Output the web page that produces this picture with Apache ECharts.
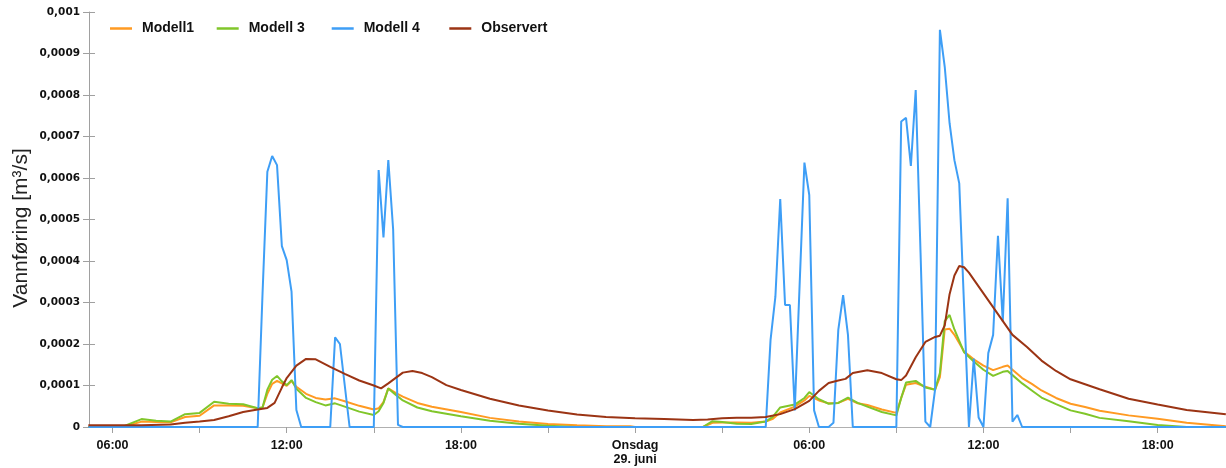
<!DOCTYPE html>
<html>
<head>
<meta charset="utf-8">
<script src="https://cdn.jsdelivr.net/npm/echarts@6/dist/echarts.min.js"></script>
<style>
html,body{margin:0;padding:0;background:#fff;}
#chart{width:1226px;height:468px;}
</style>
</head>
<body>
<div id="chart"></div>
<script>
// ---- Data (times as "DD HH:MM", June 2022) ----
const seriesNames = ['Modell1', 'Modell 3', 'Modell 4', 'Observert'];
const xTickLabels = ['06:00', '12:00', '18:00', 'Onsdag\n29. juni', '06:00', '12:00', '18:00'];
const yTitle = 'Vannføring [m³/s]';

const m1Time = ['28 05:10','28 06:00','28 06:30','28 07:00','28 07:30','28 08:00','28 08:30','28 09:00','28 09:30','28 10:00','28 10:30','28 11:00','28 11:10','28 11:20','28 11:30','28 11:40','28 11:50','28 12:00','28 12:10','28 12:20','28 12:40','28 13:00','28 13:20','28 13:40','28 14:00','28 14:30','28 15:00','28 15:10','28 15:20','28 15:30','28 15:45','28 16:00','28 16:30','28 17:00','28 18:00','28 19:00','28 20:00','28 21:00','28 22:00','28 23:00','28 23:50','29 00:00','29 02:20','29 02:40','29 03:00','29 03:30','29 04:00','29 04:30','29 04:45','29 05:00','29 05:30','29 05:50','29 06:00','29 06:20','29 06:40','29 07:00','29 07:20','29 07:40','29 08:00','29 08:30','29 09:00','29 09:10','29 09:20','29 09:40','29 10:00','29 10:20','29 10:30','29 10:40','29 10:50','29 11:00','29 11:20','29 11:40','29 12:00','29 12:20','29 12:40','29 12:50','29 13:00','29 13:20','29 13:40','29 14:00','29 14:30','29 15:00','29 15:30','29 16:00','29 17:00','29 18:00','29 19:00','29 20:21'];
const m1Val = [0,0.000002,0.000003,0.000013,0.000012,0.000011,0.000024,0.000027,0.000052,0.000052,0.000051,0.000045,0.000047,0.00008,0.000104,0.000111,0.000105,0.000099,0.000111,0.000097,0.00008,0.00007,0.000066,0.000069,0.000062,0.000051,0.000042,0.000045,0.00006,0.000093,0.000082,0.000073,0.000058,0.000049,0.000036,0.000022,0.000013,0.000007,0.000004,0.000002,0.000002,0,0,0.00001,0.000011,0.000011,0.00001,0.000013,0.00002,0.000035,0.000049,0.000064,0.000075,0.000064,0.000057,0.000058,0.000068,0.000057,0.000053,0.000042,0.000034,0.00007,0.000102,0.000106,0.000097,0.00009,0.00012,0.000235,0.000237,0.000222,0.000182,0.000163,0.000148,0.000137,0.000145,0.000148,0.000138,0.000118,0.000104,0.000088,0.00007,0.000056,0.000048,0.000039,0.000028,0.00002,0.00001,0.000002];

const m3Time = ['28 05:10','28 06:20','28 06:30','28 07:00','28 07:30','28 08:00','28 08:30','28 09:00','28 09:30','28 10:00','28 10:30','28 11:00','28 11:10','28 11:20','28 11:30','28 11:40','28 11:50','28 12:00','28 12:10','28 12:20','28 12:40','28 13:00','28 13:20','28 13:40','28 14:00','28 14:30','28 15:00','28 15:10','28 15:20','28 15:30','28 15:45','28 16:00','28 16:30','28 17:00','28 18:00','28 19:00','28 20:00','28 21:00','28 22:00','29 02:20','29 02:40','29 03:00','29 03:30','29 04:00','29 04:30','29 04:45','29 05:00','29 05:30','29 05:50','29 06:00','29 06:20','29 06:40','29 07:00','29 07:20','29 07:40','29 08:00','29 08:30','29 09:00','29 09:10','29 09:20','29 09:40','29 10:00','29 10:20','29 10:30','29 10:40','29 10:50','29 11:00','29 11:20','29 11:40','29 12:00','29 12:20','29 12:40','29 12:50','29 13:00','29 13:20','29 13:40','29 14:00','29 14:30','29 15:00','29 15:30','29 16:00','29 17:00','29 18:00','29 19:00','29 20:21'];
const m3Val = [0,0,0.000005,0.000019,0.000015,0.000013,0.000031,0.000034,0.000061,0.000056,0.000055,0.000045,0.000047,0.00009,0.000114,0.000123,0.00011,0.000101,0.000113,0.000092,0.00007,0.00006,0.000052,0.000057,0.000049,0.000037,0.000029,0.000038,0.000058,0.000093,0.000078,0.000064,0.000047,0.000038,0.000026,0.000015,0.000008,0.000003,0,0,0.000014,0.000012,0.000008,0.000007,0.000013,0.000025,0.000047,0.000054,0.00007,0.000084,0.000067,0.000056,0.000058,0.000071,0.000058,0.000049,0.000036,0.000028,0.00007,0.000107,0.000111,0.000095,0.00009,0.00013,0.000255,0.00027,0.000235,0.00018,0.000158,0.000138,0.000123,0.000133,0.000135,0.000125,0.000105,0.000088,0.000071,0.000055,0.00004,0.000032,0.000022,0.000014,0.000005,0,0];

const m4Time = ['28 05:10','28 11:00','28 11:10','28 11:20','28 11:30','28 11:40','28 11:50','28 12:00','28 12:10','28 12:20','28 12:30','28 13:30','28 13:40','28 13:50','28 14:00','28 14:10','28 15:00','28 15:10','28 15:20','28 15:30','28 15:40','28 15:50','28 16:00','29 04:30','29 04:40','29 04:50','29 05:00','29 05:10','29 05:20','29 05:30','29 05:40','29 05:50','29 06:00','29 06:10','29 06:20','29 06:40','29 06:50','29 07:00','29 07:10','29 07:20','29 07:30','29 09:00','29 09:10','29 09:20','29 09:30','29 09:40','29 09:50','29 10:00','29 10:10','29 10:20','29 10:30','29 10:40','29 10:50','29 11:00','29 11:10','29 11:20','29 11:30','29 11:40','29 11:50','29 12:00','29 12:10','29 12:20','29 12:30','29 12:40','29 12:50','29 13:00','29 13:10','29 13:20','29 20:21'];
const m4Val = [0,0,0.00032,0.000615,0.000653,0.000631,0.000436,0.000402,0.000326,0.000041,0,0,0.000216,0.0002,0.0001,0,0,0.000619,0.000457,0.000643,0.000476,0.000005,0,0,0.00021,0.000314,0.000549,0.000294,0.000294,0.00004,0.00034,0.000637,0.000559,0.00004,0,0,0.00001,0.000234,0.000318,0.000222,0,0,0.000736,0.000745,0.000629,0.000812,0.00042,0.000013,0,0.00009,0.000957,0.000868,0.000732,0.000643,0.000587,0.00029,0,0.000165,0.000023,0,0.000178,0.000222,0.000461,0.000254,0.000551,0.000013,0.000029,0,0];

const obsTime = ['28 05:10','28 07:00','28 08:00','28 08:30','28 09:00','28 09:30','28 10:00','28 10:30','28 11:00','28 11:20','28 11:35','28 11:50','28 12:00','28 12:20','28 12:40','28 13:00','28 13:30','28 14:00','28 14:30','28 15:00','28 15:15','28 15:30','28 16:00','28 16:20','28 16:40','28 17:00','28 17:30','28 18:00','28 19:00','28 20:00','28 21:00','28 22:00','28 23:00','29 00:00','29 01:00','29 02:00','29 02:30','29 03:00','29 03:30','29 04:00','29 04:30','29 05:00','29 05:30','29 06:00','29 06:20','29 06:40','29 07:00','29 07:15','29 07:30','29 08:00','29 08:30','29 09:00','29 09:10','29 09:20','29 09:40','29 10:00','29 10:20','29 10:30','29 10:40','29 10:50','29 11:00','29 11:10','29 11:20','29 11:30','29 12:00','29 12:30','29 13:00','29 13:30','29 14:00','29 14:30','29 15:00','29 16:00','29 17:00','29 18:00','29 19:00','29 20:21'];
const obsVal = [0.000004,0.000004,0.000006,0.00001,0.000013,0.000017,0.000026,0.000036,0.000042,0.000046,0.000058,0.000095,0.000118,0.000148,0.000164,0.000163,0.000145,0.000128,0.000112,0.0001,0.000093,0.000105,0.000131,0.000135,0.00013,0.00012,0.000101,0.000089,0.000068,0.000052,0.00004,0.00003,0.000024,0.000021,0.000019,0.000017,0.000018,0.000021,0.000022,0.000022,0.000024,0.000031,0.000043,0.000063,0.000087,0.000106,0.000112,0.000116,0.00013,0.000137,0.00013,0.000115,0.000113,0.000124,0.000168,0.000205,0.000217,0.00022,0.000245,0.00032,0.000365,0.000388,0.000385,0.000372,0.000322,0.000272,0.000222,0.000193,0.00016,0.000135,0.000115,0.000091,0.000068,0.000054,0.000041,0.000031];

const colors = ['#FF9A22', '#80C62A', '#3E9EF6', '#9B3414'];

// ---- helpers ----
function toHours(s) {
  const day = parseInt(s.slice(0, 2), 10);
  const hh = parseInt(s.slice(3, 5), 10);
  const mm = parseInt(s.slice(6, 8), 10);
  return (day - 28) * 24 + hh + mm / 60;
}
function pairs(times, vals) { return times.map((t, i) => [toHours(t), vals[i]]); }

const labelHours = [6, 12, 18, 24, 30, 36, 42];
const tickHours = [6, 9, 12, 15, 18, 21, 24, 27, 30, 33, 36, 39, 42];
const X_MIN = 5.19, X_MAX = 44.355;

const chart = echarts.init(document.getElementById('chart'), null, { renderer: 'canvas' });
const gray = '#A0A0A0';
const legendLefts = [110, 216.7, 331.7, 449.3];

const option = {
  animation: false,
  backgroundColor: '#fff',
  color: colors,
  grid: { left: 89, right: 0, top: 12, bottom: 41, containLabel: false },
  graphic: [{
    type: 'text', x: 21, y: 228, rotation: Math.PI / 2, silent: true,
    style: { text: yTitle, fontFamily: 'Liberation Sans', fontSize: 21, fill: '#222',
             textAlign: 'center', textVerticalAlign: 'middle' }
  }],
  legend: seriesNames.map((n, i) => ({
    data: [n], left: legendLefts[i], top: 21.5, padding: 0,
    icon: 'rect', itemWidth: 22, itemHeight: 2.5,
    textStyle: { fontFamily: 'Liberation Sans', fontWeight: 'bold', fontSize: 14, color: '#111', padding: [0, 0, 0, 5] }
  })),
  xAxis: [{
    type: 'value', min: X_MIN, max: X_MAX, position: 'bottom',
    axisLine: { show: true, lineStyle: { color: gray, width: 1 } },
    axisTick: { show: true, length: 6, lineStyle: { color: gray }, customValues: tickHours },
    splitLine: { show: false },
    axisLabel: {
      customValues: labelHours, margin: 12,
      fontFamily: 'Liberation Sans', fontWeight: 'bold', fontSize: 12.5, color: '#111', lineHeight: 14,
      formatter: v => xTickLabels[labelHours.indexOf(Math.round(v))] || ''
    }
  }, {
    type: 'value', min: X_MIN, max: X_MAX, position: 'top',
    axisLine: { show: true, lineStyle: { color: '#B0B0B0', width: 1 } },
    axisTick: { show: false }, axisLabel: { show: false }, splitLine: { show: false }
  }],
  yAxis: [{
    type: 'value', min: 0, max: 0.001, interval: 0.0001,
    axisLine: { show: true, lineStyle: { color: gray, width: 1 } },
    axisTick: { show: true, length: 6, lineStyle: { color: gray } },
    splitLine: { show: false },
    axisLabel: {
      margin: 9, fontFamily: 'DejaVu Sans', fontWeight: 'bold', fontSize: 10.5, color: '#111',
      formatter: v => v === 0 ? '0' : (+v.toFixed(4)).toString().replace('.', ',')
    }
  }, {
    type: 'value', min: 0, max: 0.001, interval: 0.0001, position: 'left',
    axisLine: { show: false },
    axisTick: { show: true, inside: true, length: 6, lineStyle: { color: gray } },
    axisLabel: { show: false }, splitLine: { show: false }
  }],
  series: [
    { name: seriesNames[0], data: pairs(m1Time, m1Val) },
    { name: seriesNames[1], data: pairs(m3Time, m3Val) },
    { name: seriesNames[2], data: pairs(m4Time, m4Val) },
    { name: seriesNames[3], data: pairs(obsTime, obsVal) }
  ].map((s, i) => Object.assign({
    type: 'line', xAxisIndex: 0, yAxisIndex: 0, showSymbol: false, symbol: 'none',
    lineStyle: { width: 2, color: colors[i] }, itemStyle: { color: colors[i] }
  }, s))
};
chart.setOption(option);
</script>
</body>
</html>
